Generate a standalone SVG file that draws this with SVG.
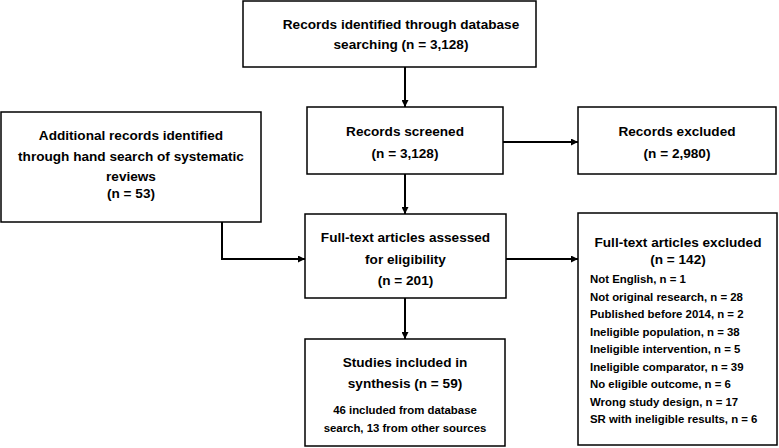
<svg xmlns="http://www.w3.org/2000/svg" width="779" height="448" viewBox="0 0 779 448">
<defs>
<marker id="ah" viewBox="0 0 10 10" refX="10" refY="5" markerWidth="7" markerHeight="7" markerUnits="userSpaceOnUse" orient="auto"><path d="M0,0 L10,5 L0,10 z" fill="#000"/></marker>
<style>
.box{fill:#fff;stroke:#000;stroke-width:1.5}
.t{font-family:"Liberation Sans",Arial,sans-serif;font-size:13.6px;font-weight:bold;fill:#000;text-anchor:middle}
.s{font-family:"Liberation Sans",Arial,sans-serif;font-size:11.4px;font-weight:bold;fill:#000}
.sc{text-anchor:middle}
.c{fill:none;stroke:#000;stroke-width:2}
</style>
</defs>
<rect width="779" height="448" fill="#fff"/>
<g id="connectors">
<line class="c" x1="405" y1="67" x2="405" y2="107" marker-end="url(#ah)"/>
<line class="c" x1="503" y1="142" x2="578" y2="142" marker-end="url(#ah)"/>
<line class="c" x1="405" y1="174" x2="405" y2="214" marker-end="url(#ah)"/>
<polyline class="c" points="222,222 222,259 305,259" marker-end="url(#ah)"/>
<line class="c" x1="506" y1="259" x2="578" y2="259" marker-end="url(#ah)"/>
<line class="c" x1="405" y1="298" x2="405" y2="339" marker-end="url(#ah)"/>
</g>
<g id="identified">
<rect class="box" x="243" y="1" width="293" height="66"/>
<text class="t" x="401" y="29">Records identified through database</text>
<text class="t" x="401" y="49">searching (n = 3,128)</text>
</g>
<g id="additional">
<rect class="box" x="1" y="112" width="260" height="110"/>
<text class="t" x="131" y="140">Additional records identified</text>
<text class="t" x="131" y="161">through hand search of systematic</text>
<text class="t" x="131" y="181">reviews</text>
<text class="t" x="131" y="198">(n = 53)</text>
</g>
<g id="screened">
<rect class="box" x="307" y="107" width="196" height="67"/>
<text class="t" x="405" y="136">Records screened</text>
<text class="t" x="405" y="158">(n = 3,128)</text>
</g>
<g id="excluded">
<rect class="box" x="578" y="107" width="198" height="67"/>
<text class="t" x="677" y="136">Records excluded</text>
<text class="t" x="677" y="158">(n = 2,980)</text>
</g>
<g id="assessed">
<rect class="box" x="305" y="214" width="201" height="84"/>
<text class="t" x="405.5" y="242">Full-text articles assessed</text>
<text class="t" x="405.5" y="264">for eligibility</text>
<text class="t" x="405.5" y="285">(n = 201)</text>
</g>
<g id="ftexcluded">
<rect class="box" x="578" y="213" width="199" height="232"/>
<text class="t" x="678" y="247">Full-text articles excluded</text>
<text class="t" x="678" y="264">(n = 142)</text>
<text class="s" x="590" y="283">Not English, n = 1</text>
<text class="s" x="590" y="300.5">Not original research, n = 28</text>
<text class="s" x="590" y="318">Published before 2014, n = 2</text>
<text class="s" x="590" y="335.5">Ineligible population, n = 38</text>
<text class="s" x="590" y="353">Ineligible intervention, n = 5</text>
<text class="s" x="590" y="370.5">Ineligible comparator, n = 39</text>
<text class="s" x="590" y="388">No eligible outcome, n = 6</text>
<text class="s" x="590" y="405.5">Wrong study design, n = 17</text>
<text class="s" x="590" y="423">SR with ineligible results, n = 6</text>
</g>
<g id="included">
<rect class="box" x="305" y="339" width="200" height="107"/>
<text class="t" x="405" y="367">Studies included in</text>
<text class="t" x="405" y="388">synthesis (n = 59)</text>
<text class="s sc" x="405" y="414">46 included from database</text>
<text class="s sc" x="405" y="432">search, 13 from other sources</text>
</g>
</svg>
